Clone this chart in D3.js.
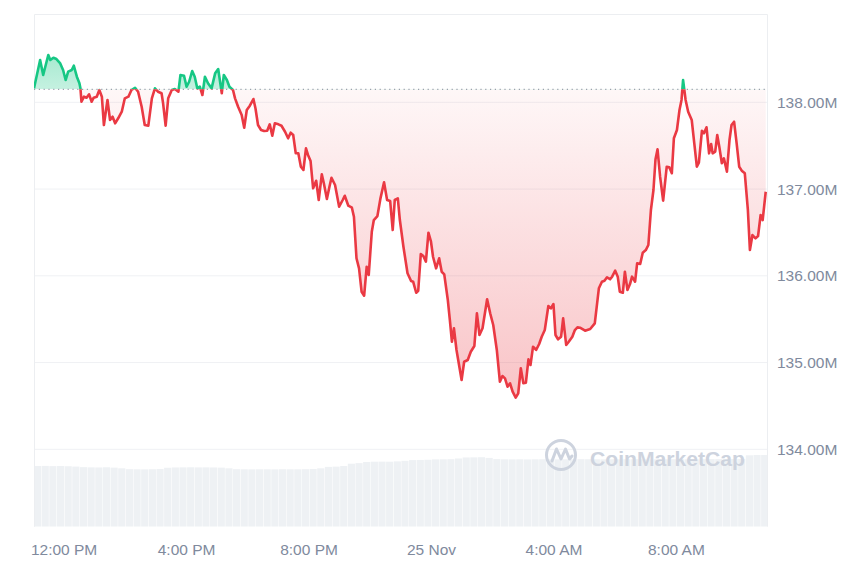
<!DOCTYPE html>
<html><head><meta charset="utf-8">
<script src="https://cdn.jsdelivr.net/npm/d3@7"></script>
<style>
body{margin:0;background:#fff}
svg{display:block}
text{font-family:"Liberation Sans",Arial,Helvetica,sans-serif}
</style>
</head><body>
<svg id="chart" width="860" height="573"></svg>
<script>
// ---------------- DATA ----------------
// minutes after 24 Nov 11:00 AM
const minutes = [
 2,14,20,30,34,40,46,53,59,64,69,76,80,86,91,93,95,100,105,110,115,119,125,130,135,139,146,151,156,161,
 167,174,180,187,193,200,206,213,219,226,233,239,245,252,255,260,265,272,278,285,289,296,301,306,312,317,322,327,332,337,
 343,350,357,363,370,374,380,385,
 392,396,402,409,414,419,425,432,436,441,447,453,459,464,469,474,481,487,494,500,505,510,515,520,525,530,535,539,544,549,
 555,560,566,570,576,581,585,592,600,607,611,618,625,629,634,639,644,649,654,658,664,668,675,681,688,694,700,705,709,715,719,
 726,734,741,745,751,755,760,765,770,775,780,784,790,796,801,806,813,817,821,825,830,840,845,852,858,865,870,875,881,890,
 896,902,909,915,920,925,930,935,940,946,951,956,961,966,971,975,980,986,992,997,1003,1010,1015,1020,1024,1029,1035,1039,1045,1050,
 1057,1062,1067,1072,1082,1092,1101,
 1109,1115,1120,1125,1131,1135,1141,1146,1150,1156,1160,1165,1170,1174,1180,1184,1190,1195,1201,1206,
 1211,1216,1220,1224,1229,1235,1242,1247,1252,1256,1262,1267,1271,1274,1279,1284,1291,1296,1301,1305,
 1311,1315,1320,1325,1329,1332,1337,1341,1345,1350,1354,1360,1365,1369,1374,1379,1384,1389,1395,1401,
 1405,1410,1416,1421,1426,1430,1436
];
// market cap, millions USD
const marketCap = [
 138.161,138.488,138.315,138.545,138.488,138.514,138.499,138.453,138.372,138.257,
 138.353,138.372,138.422,138.295,138.219,138.161,138.007,138.065,138.053,138.092,
 138.007,138.053,138.065,138.142,138.065,137.738,138.027,137.796,137.834,137.758,
 137.816,137.892,138.046,138.065,138.142,138.168,138.122,137.949,137.738,137.730,
 138.046,138.161,138.122,138.104,137.988,137.730,138.046,138.142,138.153,138.122,
 138.315,138.307,138.180,138.237,138.361,138.295,138.161,138.180,138.084,138.295,
 138.219,138.161,138.334,138.384,138.104,138.315,138.257,138.180,
 138.142,138.046,137.949,137.854,137.707,137.911,137.961,138.038,137.931,137.738,
 137.681,137.669,137.673,137.746,137.615,137.758,137.746,137.730,137.661,137.585,
 137.650,137.623,137.412,137.412,137.258,137.220,137.470,137.393,137.323,137.009,
 137.096,136.874,137.170,137.066,136.885,137.027,137.131,137.047,136.797,136.874,
 136.923,136.808,136.785,136.681,136.202,136.086,135.817,135.771,136.105,136.010,
 136.508,136.643,136.689,136.893,137.078,136.874,136.862,136.528,136.874,136.893,
 136.643,
 136.335,136.029,135.940,135.932,135.805,135.828,136.251,136.228,136.163,136.497,
 136.393,136.220,136.086,136.202,136.047,136.017,135.721,135.490,135.240,135.395,
 135.145,134.799,135.010,135.029,135.125,135.191,135.568,135.318,135.395,135.729,
 135.568,135.433,135.145,134.779,134.845,134.818,134.722,134.761,134.664,134.595,
 134.646,134.934,134.761,134.768,135.037,134.972,135.183,135.145,135.214,135.298,
 135.375,135.652,135.625,135.675,135.318,135.268,135.298,135.510,135.202,135.240,
 135.298,135.375,135.406,135.402,135.367,135.387,135.452,
 135.856,135.932,135.943,135.983,135.960,135.990,136.059,135.990,135.817,135.805,
 136.047,135.836,135.905,135.990,135.932,136.144,136.136,136.266,136.297,136.355,
 136.759,136.989,137.343,137.458,137.142,136.866,137.258,137.251,137.182,137.585,
 137.681,137.911,138.027,138.257,138.027,137.892,137.796,137.527,137.258,137.304,
 137.673,137.643,137.712,137.412,137.519,137.412,137.431,137.623,137.488,137.297,
 137.354,137.200,137.565,137.738,137.776,137.527,137.258,137.212,137.182,136.759,
 136.297,136.470,136.432,136.459,136.701,136.643,136.969
];
const baselineValue = 138.15;   // opening value (dotted reference)
const yTickValues = [134, 135, 136, 137, 138];
const yDomain = [133.108, 139.018];
const timeDomainMinutes = [2, 1438.5];
// volume bars, one per 15 minutes (relative units)
const volumeStepMinutes = 15;
const volumes = [
 10.50,10.52,10.48,10.50,10.46,10.40,10.30,10.27,10.25,10.28,10.22,10.10,
 9.95,9.93,9.92,9.94,9.98,
 10.20,10.25,10.27,10.28,10.26,10.27,10.25,10.22,10.10,
 9.95,9.93,9.92,9.93,9.93,9.92,9.94,9.93,9.93,9.95,9.98,10.10,
 10.35,10.39,10.50,10.90,11.00,
 11.20,11.25,11.26,11.25,11.30,11.40,11.52,11.55,11.58,
 11.65,11.66,11.68,11.80,11.98,12.00,12.02,11.90,
 11.70,11.66,11.65,11.66,11.64,11.66,11.67,11.66,11.65,11.66,
 11.66,11.68,11.67,11.66,11.65,11.66,11.66,11.67,11.68,11.66,
 11.65,11.66,11.66,11.67,11.66,11.65,11.66,11.68,11.70,11.69,
 11.68,11.70,11.72,
 12.35,12.40,12.40
];
const volumeDomain = [0, 15];
const watermarkText = "CoinMarketCap";

// ---------------- CHART ----------------
const start = new Date(2024, 10, 24, 11, 0, 0);
const t = m => new Date(start.getTime() + m * 60000);
const data = minutes.map((m, i) => ({ date: t(m), v: marketCap[i] }));

const L = 34, R = 767, T = 14, B = 526.7;
const svg = d3.select("#chart");

const x = d3.scaleTime().domain(timeDomainMinutes.map(t)).range([L, R]);
const y = d3.scaleLinear().domain(yDomain).range([B, T]);
const yv = d3.scaleLinear().domain(volumeDomain).range([B, 440]);

const RED = "#ea3943", GREEN = "#16c784";
const yb = y(baselineValue);

const defs = svg.append("defs");
defs.append("clipPath").attr("id", "plot").append("rect")
  .attr("x", L).attr("y", T).attr("width", R - L).attr("height", B - T);
defs.append("clipPath").attr("id", "above").append("rect")
  .attr("x", L).attr("y", 0).attr("width", R - L).attr("height", yb);
defs.append("clipPath").attr("id", "below").append("rect")
  .attr("x", L).attr("y", yb).attr("width", R - L).attr("height", 573 - yb);

const minV = d3.min(marketCap), maxV = d3.max(marketCap);
const gRed = defs.append("linearGradient").attr("id", "gRed")
  .attr("gradientUnits", "userSpaceOnUse").attr("x1", 0).attr("x2", 0)
  .attr("y1", yb).attr("y2", y(minV));
gRed.append("stop").attr("offset", 0).attr("stop-color", RED).attr("stop-opacity", 0.04);
gRed.append("stop").attr("offset", 1).attr("stop-color", RED).attr("stop-opacity", 0.3);
const gGreen = defs.append("linearGradient").attr("id", "gGreen")
  .attr("gradientUnits", "userSpaceOnUse").attr("x1", 0).attr("x2", 0)
  .attr("y1", y(maxV)).attr("y2", yb);
gGreen.append("stop").attr("offset", 0).attr("stop-color", GREEN).attr("stop-opacity", 0.38);
gGreen.append("stop").attr("offset", 1).attr("stop-color", GREEN).attr("stop-opacity", 0.25);

// volume bars
const vol = svg.append("g").attr("clip-path", "url(#plot)");
vol.selectAll("rect").data(volumes).join("rect")
  .attr("x", (d, i) => x(t(timeDomainMinutes[0] + i * volumeStepMinutes)))
  .attr("width", (d, i) => x(t(timeDomainMinutes[0] + (i + 1) * volumeStepMinutes)) - x(t(timeDomainMinutes[0] + i * volumeStepMinutes)) - 0.5)
  .attr("y", d => yv(d))
  .attr("height", d => B - yv(d))
  .attr("fill", "#eef1f4");

// gridlines
svg.append("g").selectAll("line").data(yTickValues).join("line")
  .attr("x1", L).attr("x2", R)
  .attr("y1", d => y(d)).attr("y2", d => y(d))
  .attr("stroke", "#eff1f4").attr("stroke-width", 1);

// frame
svg.append("path")
  .attr("d", `M${L + 0.5},${B}V${T + 0.5}H${R + 0.5}V${B}`)
  .attr("fill", "none").attr("stroke", "#eceef1").attr("stroke-width", 1);

// watermark
const wm = svg.append("g").attr("fill", "none").attr("stroke", "#cdd3de");
wm.append("circle").attr("cx", 561).attr("cy", 455).attr("r", 14.5).attr("stroke-width", 3);
wm.append("path").attr("d", "M552,461 L556.5,449 L561,459 L565.5,449 L569.5,459 L572,456")
  .attr("stroke-width", 3).attr("stroke-linejoin", "round").attr("stroke-linecap", "round");
svg.append("text").attr("x", 590).attr("y", 466)
  .attr("font-family", "Inter, 'Open Sans', sans-serif")
  .attr("font-size", 21).attr("font-weight", 600).attr("fill", "#cdd3de")
  .attr("textLength", 155).attr("lengthAdjust", "spacingAndGlyphs")
  .text(watermarkText);

// areas
const area = d3.area().x(d => x(d.date)).y0(yb).y1(d => y(d.v));
svg.append("path").datum(data).attr("d", area)
  .attr("fill", "url(#gGreen)").attr("clip-path", "url(#above)");
svg.append("path").datum(data).attr("d", area)
  .attr("fill", "url(#gRed)").attr("clip-path", "url(#below)");

// baseline dotted
svg.append("line").attr("x1", L).attr("x2", R).attr("y1", yb).attr("y2", yb)
  .attr("stroke", "#9aa1ad").attr("stroke-width", 1.2).attr("stroke-dasharray", "1.2,3.6");

// lines
const line = d3.line().x(d => x(d.date)).y(d => y(d.v));
svg.append("path").datum(data).attr("d", line)
  .attr("fill", "none").attr("stroke", GREEN).attr("stroke-width", 2.6)
  .attr("stroke-linejoin", "round").attr("clip-path", "url(#above)");
svg.append("path").datum(data).attr("d", line)
  .attr("fill", "none").attr("stroke", RED).attr("stroke-width", 2.6)
  .attr("stroke-linejoin", "round").attr("clip-path", "url(#below)");

// axes
const fmtTime = d3.timeFormat("%-I:%M %p"), fmtDay = d3.timeFormat("%-d %b");
const xAxis = d3.axisBottom(x).ticks(d3.timeHour.every(4))
  .tickFormat(d => d.getHours() === 0 ? fmtDay(d) : fmtTime(d))
  .tickSize(0).tickPadding(17);
const gx = svg.append("g").attr("transform", `translate(0,${B})`).call(xAxis);
gx.select(".domain").remove();
gx.selectAll("text").attr("font-size", 15.5).attr("fill", "#808a9d")
  .attr("font-family", '"Liberation Sans",Arial,sans-serif');

const yAxis = d3.axisRight(y).tickValues(yTickValues)
  .tickFormat(d => d.toFixed(2) + "M").tickSize(0).tickPadding(10);
const gy = svg.append("g").attr("transform", `translate(${R},0)`).call(yAxis);
gy.select(".domain").remove();
gy.selectAll("text").attr("font-size", 15.5).attr("fill", "#808a9d")
  .attr("font-family", '"Liberation Sans",Arial,sans-serif');
</script>
</body></html>
